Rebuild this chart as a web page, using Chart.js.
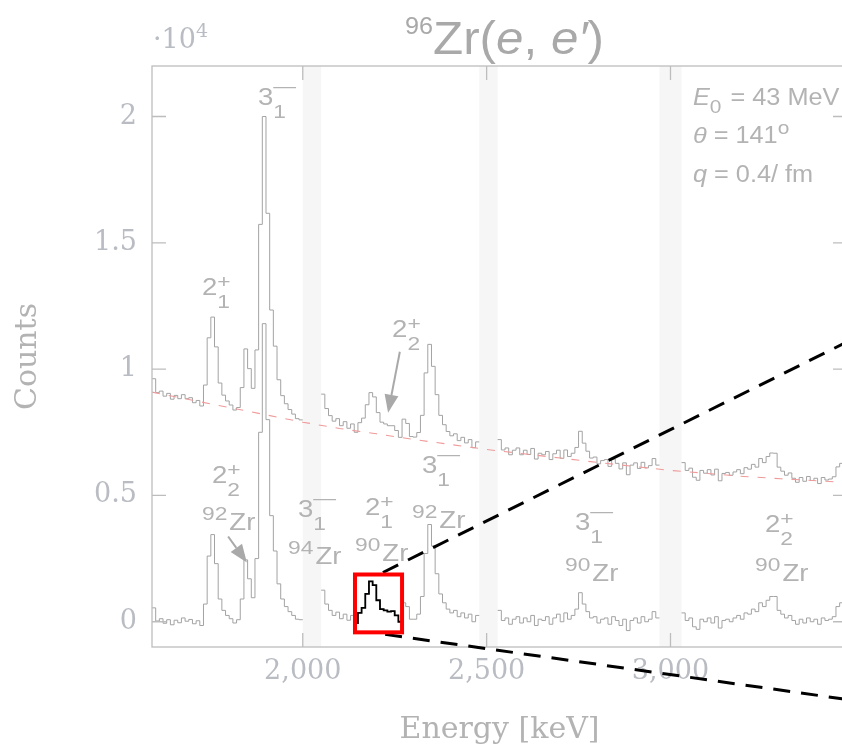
<!DOCTYPE html>
<html>
<head>
<meta charset="utf-8">
<script src="https://cdn.jsdelivr.net/npm/chart.js@4.4.1/dist/chart.umd.min.js"></script>
<style>
  html, body { margin: 0; padding: 0; background: #fff; overflow: hidden; }
  canvas { display: block; }
</style>
</head>
<body>
<canvas id="spectrum" width="860" height="751"></canvas>
<script>
// 96Zr(e,e') spectrum, 10 keV bins, recorded in four energy windows
const binWidth = 10;
const windowStart = [1590, 2050, 2530, 3030];

// background subtracted counts per window
const lower1 = [550, 30, 120, -60, 80, -120, 60, -40, 150, 20, 90, -80, 40, -150, 700, 2600, 3450, 2300, 900, 450, 250, 120, -50, 80, 900, 2450, 1700, 950, 2500, 7500, 11800, 8000, 4200, 2800, 1500, 900, 600, 400, 250, 100, 80];
const lower2 = [1250, 700, 450, 250, 380, 120, 300, 60, 250, -50, 350, 550, 1100, 1600, 1450, 850, 500, 450, 400, 420, 250, 0, 750, 600, 100, 100, 300, 1000, 2700, 3850, 3000, 1900, 1100, 750, 500, 350, 450, 200, 350, 150, 300, 0, 250];
const lower3 = [450, 50, 150, -100, 100, 200, -50, 150, 0, 250, -150, 100, 50, 200, -100, 150, 300, 0, 350, 100, 250, 500, 1150, 700, 400, 150, 200, -50, 100, 150, -100, 200, 50, -150, 100, -350, 50, 150, -50, 200, 0, 100, 400, 150];
const lower4 = [350, 50, 150, -200, -300, 100, 0, 150, -50, 200, -250, 50, 100, 0, 150, 250, 100, 350, 300, 500, 400, 750, 600, 850, 1000, 1000, 450, 300, 150, 250, 50, -100, 100, -50, 150, 0, 100, -100, 150, 50, 100, 200, 600, 750, 900];

// raw counts per window
const upper1 = [9620, 9070, 9130, 8930, 9040, 8810, 8960, 8830, 8990, 8830, 8870, 8670, 8760, 8540, 9370, 11240, 12060, 10880, 9450, 8970, 8740, 8580, 8380, 8480, 9270, 10800, 10020, 9240, 10760, 15730, 20000, 16170, 12340, 10910, 9580, 8950, 8630, 8400, 8220, 8040, 7990];
const upper2 = [9010, 8440, 8160, 7940, 8040, 7760, 7920, 7660, 7830, 7500, 7880, 8060, 8590, 9070, 8900, 8280, 7900, 7830, 7760, 7760, 7570, 7300, 8020, 7850, 7330, 7310, 7490, 8170, 9850, 10980, 10110, 8990, 8170, 7800, 7530, 7360, 7440, 7170, 7300, 7080, 7210, 6890, 7120];
const upper3 = [7210, 6800, 6880, 6610, 6790, 6880, 6610, 6790, 6620, 6860, 6440, 6670, 6610, 6740, 6420, 6650, 6790, 6470, 6800, 6540, 6670, 6900, 7540, 7070, 6750, 6480, 6520, 6250, 6380, 6420, 6150, 6440, 6270, 6050, 6290, 5820, 6200, 6290, 6070, 6310, 6090, 6180, 6460, 6200];
const upper4 = [6300, 5990, 6080, 5720, 5600, 5990, 5880, 6020, 5810, 6040, 5580, 5870, 5910, 5800, 5930, 6020, 5860, 6100, 6040, 6230, 6120, 6460, 6300, 6540, 6680, 6670, 6120, 5960, 5800, 5890, 5680, 5520, 5710, 5560, 5750, 5590, 5680, 5470, 5710, 5610, 5650, 5740, 6130, 6270, 6410];

// fitted background
const bgEnergy = [1590, 1700, 1800, 1900, 2000, 2100, 2200, 2300, 2400, 2500, 2600, 2700, 2800, 2900, 3000, 3100, 3200, 3300, 3400, 3480];
const bgCounts = [9090, 8770, 8480, 8190, 7900, 7650, 7440, 7220, 7020, 6820, 6650, 6480, 6310, 6150, 5990, 5870, 5750, 5660, 5580, 5510];

const gapBands = [[2000, 2050], [2480, 2530], [2970, 3030]];
const xTickValues = [2000, 2500, 3000];
const yTickValues = [0, 5000, 10000, 15000, 20000];

// magnified region around the 90Zr 2+ line and the lines leading to the inset
const zoomBox = { e0: 2142, e1: 2270, c0: -420, c1: 1870 };
const spyLines = [
  { from: [2218, 1950], to: [3515, 11330] },
  { from: [2224, -500], to: [3515, -3150] }
];

const levelLabels = [
  { e: 1878, c: 20460, n: '3', sub: '1', parity: '-' },
  { e: 1726, c: 12945, n: '2', sub: '1', parity: '+' },
  { e: 2243, c: 11283, n: '2', sub: '2', parity: '+' },
  { e: 1753, c: 5510, n: '2', sub: '2', parity: '+' },
  { e: 1987, c: 4165, n: '3', sub: '1', parity: '-' },
  { e: 2169, c: 4245, n: '2', sub: '1', parity: '+' },
  { e: 2324, c: 5905, n: '3', sub: '1', parity: '-' },
  { e: 2740, c: 3650, n: '3', sub: '1', parity: '-' },
  { e: 3257, c: 3570, n: '2', sub: '2', parity: '+' }
];
const isotopeLabels = [
  { e: 1726, c: 3650, mass: '92' },
  { e: 1960, c: 2270, mass: '94' },
  { e: 2142, c: 2385, mass: '90' },
  { e: 2297, c: 3730, mass: '92' },
  { e: 2713, c: 1595, mass: '90' },
  { e: 3230, c: 1595, mass: '90' }
];
const arrows = [
  { from: [2264, 10690], to: [2232, 8277] },
  { from: [1797, 3374], to: [1848, 2345] }
];
const infoAnchor = { e: 3061, c: [20460, 18957, 17415] };

const TEXT = '#b3b3b3';
const SX = 1.2; // widen the sans labels a bit

function histogram(windows) {
  const pts = [];
  windows.forEach((counts, w) => {
    const start = windowStart[w];
    counts.forEach((c, i) => pts.push({ x: start + i * binWidth, y: c }));
    const end = start + counts.length * binWidth;
    pts.push({ x: end, y: counts[counts.length - 1] });
    pts.push({ x: end, y: null });
  });
  return pts;
}

// part of the subtracted spectrum that sits inside the zoom box
const boxPts = [];
lower2.forEach((c, i) => {
  const e = windowStart[1] + i * binWidth;
  if (e >= zoomBox.e0 - binWidth / 2 && e < zoomBox.e1 - binWidth / 2) boxPts.push({ x: e, y: c });
});
boxPts.push({ x: boxPts[boxPts.length - 1].x + binWidth, y: boxPts[boxPts.length - 1].y });

function fontOf(r) {
  return (r.italic ? 'italic ' : '') + r.size + 'px ' + (r.family || '"Liberation Sans", Arial, sans-serif');
}

function drawRuns(ctx, runs, x, y, sx, align) {
  ctx.save();
  ctx.textAlign = 'left';
  ctx.textBaseline = 'alphabetic';
  const adv = runs.map(r => {
    ctx.font = fontOf(r);
    return r.stack ? 0 : ctx.measureText(r.text).width * sx + (r.gap || 0);
  });
  let cx = x;
  if (align === 'center') cx -= adv.reduce((a, b) => a + b, 0) / 2;
  runs.forEach((r, i) => {
    ctx.font = fontOf(r);
    ctx.save();
    ctx.translate(cx + (r.dx || 0), y + (r.dy || 0));
    ctx.scale(sx, 1);
    ctx.fillText(r.text, 0, 0);
    ctx.restore();
    cx += adv[i];
  });
  ctx.restore();
}

function levelRuns(l) {
  return [
    { text: l.n, size: 23 },
    { text: l.sub, size: 19, dy: 13, stack: true },
    l.parity === '+' ? { text: '+', size: 19, dy: -7 } : { text: '\u2014', size: 19, dy: -13 }
  ];
}

function drawArrow(ctx, x0, y0, x1, y1) {
  const a = Math.atan2(y1 - y0, x1 - x0), L = 18, W = 7;
  const bx = x1 - L * Math.cos(a), by = y1 - L * Math.sin(a);
  ctx.beginPath();
  ctx.moveTo(x0, y0);
  ctx.lineTo(bx, by);
  ctx.stroke();
  ctx.beginPath();
  ctx.moveTo(x1, y1);
  ctx.lineTo(bx + W * Math.sin(a), by - W * Math.cos(a));
  ctx.lineTo(bx - W * Math.sin(a), by + W * Math.cos(a));
  ctx.closePath();
  ctx.fill();
}

const decorations = {
  id: 'decorations',
  beforeDatasetsDraw(chart) {
    const { ctx, chartArea: a, scales: { x } } = chart;
    ctx.save();
    ctx.fillStyle = '#f6f6f6';
    gapBands.forEach(([e0, e1]) => {
      const p0 = x.getPixelForValue(e0), p1 = x.getPixelForValue(e1);
      ctx.fillRect(p0, a.top, p1 - p0, a.bottom - a.top);
    });
    ctx.restore();
  },
  afterDatasetsDraw(chart) {
    const { ctx, chartArea: a, scales: { x, y } } = chart;
    const tl = 14;
    ctx.save();
    ctx.strokeStyle = '#bdbdbd';
    ctx.lineWidth = 1.3;
    ctx.strokeRect(a.left, a.top, a.right - a.left, a.bottom - a.top);
    ctx.beginPath();
    xTickValues.forEach(v => {
      const p = x.getPixelForValue(v);
      ctx.moveTo(p, a.bottom); ctx.lineTo(p, a.bottom - tl);
      ctx.moveTo(p, a.top); ctx.lineTo(p, a.top + tl);
    });
    yTickValues.forEach(v => {
      const p = y.getPixelForValue(v);
      ctx.moveTo(a.left, p); ctx.lineTo(a.left + tl, p);
      ctx.moveTo(a.right, p); ctx.lineTo(a.right - tl, p);
    });
    ctx.stroke();
    ctx.restore();
  },
  afterDraw(chart) {
    const { ctx, chartArea: a, scales: { x, y } } = chart;
    const px = e => x.getPixelForValue(e), py = c => y.getPixelForValue(c);
    ctx.save();

    // lines towards the magnified inset
    ctx.strokeStyle = '#000';
    ctx.lineWidth = 3;
    ctx.setLineDash([17, 11]);
    spyLines.forEach(l => {
      ctx.beginPath();
      ctx.moveTo(px(l.from[0]), py(l.from[1]));
      ctx.lineTo(px(l.to[0]), py(l.to[1]));
      ctx.stroke();
    });
    ctx.setLineDash([]);

    ctx.strokeStyle = '#ff0000';
    ctx.lineWidth = 4;
    ctx.strokeRect(px(zoomBox.e0), py(zoomBox.c1), px(zoomBox.e1) - px(zoomBox.e0), py(zoomBox.c0) - py(zoomBox.c1));

    // level and isotope labels
    ctx.fillStyle = TEXT;
    levelLabels.forEach(l => drawRuns(ctx, levelRuns(l), px(l.e), py(l.c), SX));
    isotopeLabels.forEach(i => drawRuns(ctx, [
      { text: i.mass, size: 19, dy: -10, gap: 2 },
      { text: 'Zr', size: 23 }
    ], px(i.e), py(i.c), SX));

    ctx.strokeStyle = '#a9a9a9';
    ctx.fillStyle = '#a9a9a9';
    ctx.lineWidth = 2;
    arrows.forEach(r => drawArrow(ctx, px(r.from[0]), py(r.from[1]), px(r.to[0]), py(r.to[1])));

    // beam energy, angle and momentum transfer
    ctx.fillStyle = TEXT;
    const ix = px(infoAnchor.e);
    drawRuns(ctx, [
      { text: 'E', size: 23, italic: true },
      { text: '0', size: 19, dy: 8, gap: 2 },
      { text: ' = 43 MeV', size: 23 }
    ], ix, py(infoAnchor.c[0]), 1.1);
    drawRuns(ctx, [
      { text: '\u03b8', size: 23, italic: true },
      { text: ' = 141', size: 23 },
      { text: 'o', size: 19, dy: -9, gap: 0 }
    ], ix, py(infoAnchor.c[1]), 1.1);
    drawRuns(ctx, [
      { text: 'q', size: 23, italic: true },
      { text: ' = 0.4/ fm', size: 23 }
    ], ix, py(infoAnchor.c[2]), 1.1);

    // plot title and axis multiplier
    ctx.fillStyle = '#a9a9a9';
    drawRuns(ctx, [
      { text: '96', size: 24, dy: -20 },
      { text: 'Zr(', size: 47 },
      { text: 'e', size: 47, italic: true },
      { text: ', ', size: 47 },
      { text: 'e\u2032', size: 47, italic: true },
      { text: ')', size: 47 }
    ], (a.left + a.right) / 2 + 5, a.top - 12, 1.05, 'center');

    ctx.fillStyle = '#b9bcc2';
    drawRuns(ctx, [
      { text: '\u00b710', size: 27, family: '"DejaVu Serif", serif' },
      { text: '4', size: 19, dy: -11, family: '"DejaVu Serif", serif' }
    ], a.left + 1, a.top - 18, 1);

    ctx.restore();
  }
};

const axisFont = { family: 'DejaVu Serif', size: 27 };
const titleFont = { family: 'DejaVu Serif', size: 30 };

new Chart(document.getElementById('spectrum'), {
  type: 'line',
  data: {
    datasets: [
      { data: boxPts, borderColor: '#000', borderWidth: 1.8, stepped: true, pointRadius: 0 },
      { data: bgEnergy.map((e, i) => ({ x: e, y: bgCounts[i] })), borderColor: '#f09a9a', borderWidth: 1.1, borderDash: [8, 9], pointRadius: 0 },
      { data: histogram([upper1, upper2, upper3, upper4]), borderColor: '#a3a3a3', borderWidth: 1, stepped: true, pointRadius: 0 },
      { data: histogram([lower1, lower2, lower3, lower4]), borderColor: '#a3a3a3', borderWidth: 1, stepped: true, pointRadius: 0 }
    ]
  },
  options: {
    responsive: false,
    animation: false,
    spanGaps: false,
    layout: { padding: { top: 66, right: 13, left: 0, bottom: 0 } },
    plugins: { legend: { display: false }, tooltip: { enabled: false } },
    scales: {
      x: {
        type: 'linear',
        min: 1590,
        max: 3480,
        afterFit: s => { s.height = 104; },
        afterBuildTicks: s => { s.ticks = xTickValues.map(v => ({ value: v })); },
        grid: { display: false, drawTicks: false },
        border: { display: false },
        ticks: {
          color: '#b9bcc2', font: axisFont, padding: 9, maxRotation: 0, autoSkip: false,
          callback: v => v.toLocaleString('en-US')
        },
        title: { display: true, text: 'Energy [keV]', color: TEXT, font: titleFont, padding: { top: 0, bottom: 3 } }
      },
      y: {
        min: -1000,
        max: 22000,
        afterFit: s => { s.width = 152; },
        afterBuildTicks: s => { s.ticks = yTickValues.map(v => ({ value: v })); },
        grid: { display: false, drawTicks: false },
        border: { display: false },
        ticks: { color: '#b9bcc2', font: axisFont, padding: 15, callback: v => String(v / 10000) },
        title: { display: true, text: 'Counts', color: TEXT, font: titleFont, padding: { top: 10, bottom: 0 } }
      }
    }
  },
  plugins: [decorations]
});
</script>
</body>
</html>
